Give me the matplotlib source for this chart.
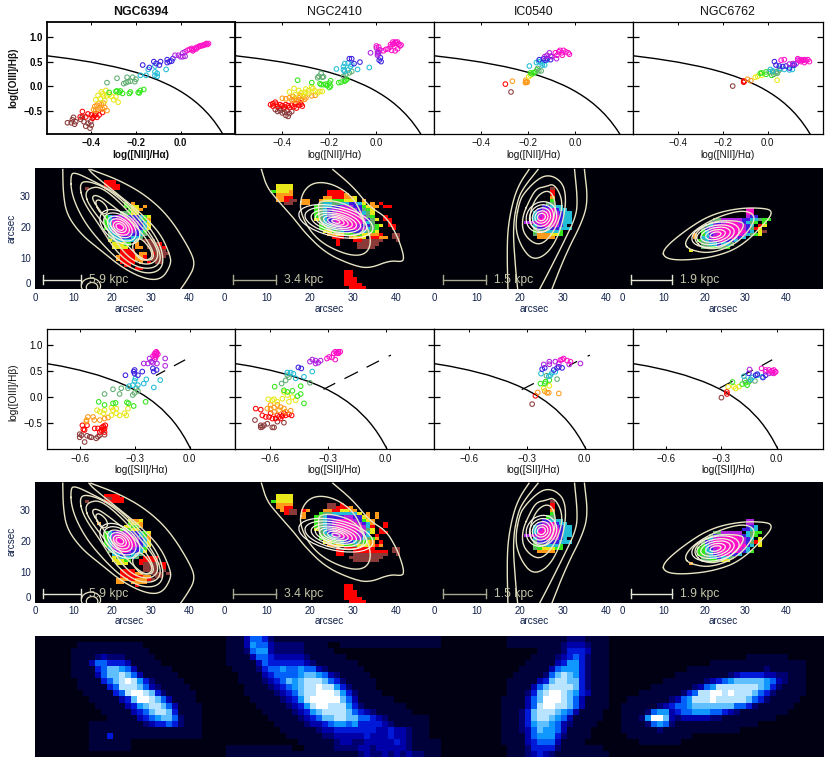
import numpy as np
import matplotlib
matplotlib.use("Agg")
import matplotlib.pyplot as plt
from matplotlib.colors import ListedColormap, BoundaryNorm
from matplotlib.patches import Ellipse

plt.rcParams['font.family'] = ['Liberation Sans', 'DejaVu Sans']
W, H = 832, 763

GALAXIES = ["NGC6394", "NGC2410", "IC0540", "NGC6762"]
KPC_LABELS = ["5.9 kpc", "3.4 kpc", "1.5 kpc", "1.9 kpc"]
CAT_COLORS = ["#8b3a3a", "#ff0000", "#ff9a1a", "#e8e81a", "#33e619",
              "#5fae70", "#22bcd6", "#3a1fe0", "#b021e0", "#ff10c8"]

# demarcation curves
NII_CURVE_X = [-0.6, -0.5, -0.4, -0.3, -0.25, -0.2, -0.15, -0.1, -0.05, -0.025, 0, 0.025, 0.05, 0.075, 0.1, 0.125, 0.15, 0.175, 0.19]
NII_CURVE_Y = [0.62, 0.561, 0.489, 0.398, 0.343, 0.28, 0.206, 0.12, 0.017, -0.042, -0.108, -0.181, -0.262, -0.354, -0.459, -0.578, -0.716, -0.878, -0.989]
SII_CURVE_X = [-0.85, -0.7, -0.6, -0.5, -0.4, -0.35, -0.3, -0.25, -0.2, -0.15, -0.1, -0.075, -0.05, -0.025, 0, 0.01]
SII_CURVE_Y = [0.685, 0.594, 0.517, 0.422, 0.3, 0.225, 0.139, 0.037, -0.085, -0.232, -0.414, -0.523, -0.646, -0.787, -0.95, -1.023]

# Seyfert/LINER dash pieces (x0, y0, x1, y1) visible in each [SII] panel
DASHES = [
    [(-0.18, 0.42, -0.136, 0.503), (-0.082, 0.605, -0.027, 0.709)],
    [(-0.32, 0.155, -0.265, 0.26), (-0.211, 0.36, -0.147, 0.48), (-0.0965, 0.578, -0.038, 0.688), (0.018, 0.79, 0.024, 0.80)],
    [(-0.323, 0.15, -0.266, 0.257), (-0.078, 0.61, -0.042, 0.68), (0.018, 0.79, 0.024, 0.80)],
    [(-0.306, 0.18, -0.242, 0.3), (-0.187, 0.41, -0.133, 0.51), (-0.078, 0.61, -0.027, 0.71)],
]

NII_6394 = {
 0: [(-.507,-.75),(-.48,-.64),(-.475,-.78),(-.485,-.69),(-.448,-.68),(-.433,-.73),(-.425,-.82),(-.406,-.86),(-.415,-.76),(-.403,-.73),(-.44,-.63),(-.47,-.73),(-.49,-.75),(-.40,-.80)],
 1: [(-.44,-.52),(-.45,-.63),(-.425,-.63),(-.415,-.57),(-.40,-.59),(-.39,-.63),(-.38,-.56),(-.365,-.59),(-.35,-.54),(-.395,-.66),(-.375,-.64),(-.385,-.6)],
 2: [(-.39,-.48),(-.385,-.42),(-.375,-.39),(-.37,-.47),(-.36,-.44),(-.355,-.38),(-.35,-.47),(-.345,-.35),(-.34,-.44),(-.33,-.5),(-.38,-.5),(-.365,-.35)],
 3: [(-.38,-.28),(-.37,-.19),(-.36,-.26),(-.355,-.12),(-.345,-.2),(-.34,-.3),(-.335,-.09),(-.33,-.2),(-.31,-.21),(-.30,-.28),(-.29,-.22),(-.28,-.33),(-.35,-.16),(-.32,-.17)],
 4: [(-.32,-.13),(-.285,-.1),(-.275,-.13),(-.26,-.15),(-.23,-.15),(-.225,-.12),(-.185,-.14),(-.165,-.07),(-.18,-.09),(-.29,-.11),(-.27,-.1),(-.19,-.13)],
 5: [(-.33,.07),(-.285,.16),(-.24,.18),(-.215,.18),(-.245,.07),(-.225,.1),(-.205,.09),(-.2,.14),(-.235,.09),(-.255,.05)],
 6: [(-.18,.22),(-.155,.22),(-.145,.34),(-.115,.41),(-.115,.29),(-.105,.2),(-.115,.22),(-.065,.34),(-.105,.26)],
 7: [(-.17,.43),(-.14,.38),(-.12,.5),(-.11,.46),(-.09,.5),(-.095,.43),(-.06,.54),(-.05,.5),(-.035,.56),(-.06,.48),(-.04,.51)],
 8: [(-.025,.63),(-.01,.63),(.01,.68),(.01,.6),(.02,.7),(0,.6),(.02,.61)],
 9: [(.03,.73),(.04,.75),(.05,.74),(.055,.72),(.06,.75),(.07,.76),(.08,.8),(.085,.82),(.09,.82),(.095,.83),(.1,.83),(.105,.84),(.11,.85),(.115,.87),(.12,.85),(.125,.87),(.05,.77),(.07,.79)],
}
NII_2410 = {
 0: [(-.43,-.48),(-.42,-.52),(-.41,-.5),(-.40,-.55),(-.39,-.54),(-.385,-.6),(-.375,-.62),(-.37,-.56),(-.395,-.47),(-.41,-.46),(-.38,-.5),(-.36,-.52)],
 1: [(-.45,-.38),(-.44,-.36),(-.44,-.41),(-.43,-.33),(-.425,-.37),(-.42,-.42),(-.41,-.38),(-.40,-.4),(-.39,-.43),(-.385,-.38),(-.375,-.4),(-.37,-.44),(-.36,-.39),(-.35,-.42),(-.345,-.36),(-.34,-.45),(-.33,-.39),(-.325,-.34),(-.32,-.37),(-.315,-.41)],
 2: [(-.40,-.25),(-.385,-.26),(-.37,-.24),(-.36,-.28),(-.355,-.21),(-.345,-.25),(-.34,-.3),(-.33,-.24),(-.325,-.2),(-.32,-.28),(-.31,-.22),(-.305,-.27),(-.30,-.24),(-.35,-.29),(-.275,-.2),(-.26,-.19)],
 3: [(-.37,-.12),(-.35,-.05),(-.345,-.18),(-.33,-.09),(-.32,-.14),(-.31,-.18),(-.3,-.06),(-.29,-.1),(-.285,-.15),(-.27,-.05),(-.26,-.1),(-.25,-.14),(-.24,-.11),(-.23,-.11),(-.275,-.02),(-.305,-.13)],
 4: [(-.335,.12),(-.275,.07),(-.24,.05),(-.235,.03),(-.225,.03),(-.21,.01),(-.195,.11),(-.2,.06),(-.195,0),(-.2,-.03),(-.16,.07),(-.15,.08),(-.135,.1),(-.125,.14),(-.13,.12),(-.215,.04)],
 5: [(-.245,.2),(-.25,.17),(-.235,.26),(-.23,.18),(-.225,.19),(-.13,.24),(-.115,.27),(-.105,.3),(-.14,.2)],
 6: [(-.17,.35),(-.14,.33),(-.135,.3),(-.12,.33),(-.11,.4),(-.12,.47),(-.135,.46),(-.03,.38),(-.08,.34),(-.14,.4),(-.105,.44)],
 7: [(-.115,.56),(-.105,.56),(-.07,.49),(-.095,.46),(.017,.58),(.02,.5),(.012,.53)],
 8: [(-.025,.68),(0,.78),(.005,.7),(.005,.66),(.01,.7),(.015,.74),(.01,.68),(.005,.63)],
 9: [(0,.82),(.01,.8),(.03,.72),(.05,.76),(.06,.8),(.065,.73),(.07,.85),(.075,.87),(.08,.9),(.085,.88),(.09,.9),(.095,.86),(.1,.82),(.105,.84),(.08,.72),(.09,.76),(.07,.9),(.06,.85),(.04,.75)],
}
NII_0540 = {
 0: [(-.273,-.12)],
 1: [(-.297,.04)],
 2: [(-.267,.1),(-.21,.08),(-.205,.09),(-.212,.07),(-.205,.075),(-.21,.12)],
 3: [(-.198,.19),(-.19,.22)],
 4: [(-.19,.27),(-.177,.27),(-.17,.29),(-.184,.25),(-.163,.33)],
 5: [(-.155,.31),(-.145,.31),(-.16,.36)],
 6: [(-.195,.41),(-.165,.48),(-.148,.5),(-.14,.43),(-.13,.43),(-.155,.5),(-.12,.53),(-.14,.47)],
 7: [(-.153,.54),(-.135,.56),(-.12,.56),(-.105,.54),(-.128,.53)],
 8: [(-.13,.6),(-.12,.63),(-.11,.68),(-.1,.6),(-.08,.56),(-.105,.61)],
 9: [(-.085,.68),(-.07,.7),(-.065,.73),(-.05,.73),(-.055,.63),(-.04,.7),(-.025,.65),(-.078,.63),(-.057,.68),(-.03,.68)],
}
NII_6762 = {
 0: [(-.156,0)],
 1: [(-.107,.1),(-.107,.08),(-.104,.1)],
 2: [(-.09,.14),(-.075,.11)],
 3: [(-.055,.18),(-.045,.2),(-.027,.22),(.042,.12)],
 4: [(-.033,.26),(-.027,.27),(-.007,.24),(-.007,.29),(.018,.22)],
 5: [(.007,.29),(.022,.29),(.037,.29),(.045,.29),(.052,.33),(.042,.26),(.027,.24)],
 6: [(.012,.34),(.022,.31),(.052,.36),(.074,.34),(.11,.34),(.097,.33)],
 7: [(.03,.5),(.037,.43),(.052,.41),(.067,.4),(.082,.41),(.097,.37),(.112,.43),(.119,.43)],
 8: [(.097,.45),(.112,.46),(.127,.46),(.134,.53)],
 9: [(.06,.53),(.074,.54),(.134,.56),(.141,.52),(.149,.5),(.156,.53),(.164,.54),(.171,.52),(.179,.54),(.186,.5),(.164,.48),(.149,.54)],
}
SII_6394 = {
 0: [(-.6,-.71),(-.6,-.77),(-.59,-.73),(-.56,-.74),(-.536,-.77),(-.573,-.86),(-.51,-.79),(-.5,-.76),(-.49,-.73),(-.464,-.72),(-.545,-.76)],
 1: [(-.585,-.54),(-.56,-.54),(-.573,-.63),(-.58,-.62),(-.518,-.6),(-.5,-.6),(-.482,-.63),(-.47,-.56),(-.464,-.6),(-.46,-.54),(-.478,-.58),(-.47,-.62),(-.49,-.67),(-.464,-.67)],
 2: [(-.563,-.44),(-.555,-.38),(-.52,-.44),(-.49,-.44),(-.464,-.41),(-.445,-.39),(-.527,-.38),(-.563,-.47)],
 3: [(-.505,-.25),(-.49,-.28),(-.47,-.31),(-.427,-.2),(-.418,-.25),(-.4,-.31),(-.382,-.35),(-.355,-.31),(-.345,-.35),(-.427,-.35),(-.4,-.22),(-.464,-.25),(-.336,-.22)],
 4: [(-.496,-.09),(-.464,-.15),(-.418,-.12),(-.404,-.11),(-.342,-.1),(-.333,-.12),(-.305,-.17),(-.24,-.09)],
 5: [(-.464,.06),(-.418,.15),(-.382,.06),(-.373,.17),(-.336,.17),(-.29,.17),(-.31,.04),(-.3,.08),(-.282,.12)],
 6: [(-.33,.21),(-.31,.23),(-.282,.23),(-.25,.26),(-.236,.34),(-.195,.185),(-.16,.325),(-.295,.36),(-.3,.31)],
 7: [(-.35,.42),(-.305,.49),(-.3,.45),(-.282,.42),(-.258,.49),(-.3,.52),(-.2,.55),(-.18,.52),(-.196,.49)],
 8: [(-.25,.645),(-.227,.645),(-.218,.74),(-.2,.66),(-.178,.645),(-.133,.74),(-.133,.6),(-.209,.68),(-.19,.72)],
 9: [(-.2,.785),(-.191,.835),(-.182,.87),(-.191,.8),(-.182,.835),(-.182,.8),(-.178,.85),(-.185,.76),(-.173,.82)],
}
SII_2410 = {
 0: [(-.678,-.44),(-.648,-.54),(-.648,-.58),(-.631,-.54),(-.614,-.51),(-.588,-.58),(-.579,-.58),(-.528,-.49),(-.562,-.47),(-.64,-.57)],
 1: [(-.674,-.22),(-.648,-.24),(-.64,-.35),(-.622,-.38),(-.605,-.38),(-.588,-.41),(-.571,-.41),(-.553,-.38),(-.536,-.36),(-.519,-.35),(-.502,-.33),(-.488,-.35),(-.545,-.41),(-.562,-.35),(-.597,-.31),(-.528,-.31)],
 2: [(-.614,-.22),(-.597,-.22),(-.579,-.2),(-.562,-.15),(-.545,-.19),(-.528,-.22),(-.519,-.28),(-.579,-.28),(-.493,-.26),(-.553,-.25),(-.597,-.15)],
 3: [(-.609,-.04),(-.588,-.06),(-.562,-.09),(-.536,-.03),(-.484,0),(-.467,-.06),(-.51,.04),(-.528,.1),(-.579,-.04),(-.502,-.09)],
 4: [(-.576,.2),(-.528,.13),(-.51,.1),(-.484,.12),(-.441,.21),(-.458,.02),(-.424,-.12),(-.441,.06)],
 5: [(-.54,.26),(-.519,.32),(-.51,.42),(-.502,.38),(-.393,.275)],
 6: [(-.51,.47),(-.493,.47),(-.479,.45),(-.467,.36),(-.424,.39),(-.381,.49)],
 7: [(-.453,.57),(-.438,.55)],
 8: [(-.393,.68),(-.381,.72),(-.364,.7),(-.35,.66),(-.338,.7),(-.364,.645)],
 9: [(-.305,.74),(-.293,.77),(-.279,.76),(-.262,.72),(-.27,.84),(-.262,.87),(-.253,.85),(-.245,.87),(-.236,.87),(-.253,.84),(-.245,.84)],
}
SII_0540 = {
 0: [(-.272,-.134)],
 1: [(-.255,.026)],
 2: [(-.243,.09),(-.207,.115),(-.195,.083),(-.186,.083),(-.134,.07)],
 3: [(-.212,.166),(-.183,.217)],
 4: [(-.229,.26),(-.207,.26),(-.203,.295),(-.183,.326)],
 5: [(-.198,.41),(-.143,.345)],
 6: [(-.226,.45),(-.178,.42),(-.169,.465),(-.152,.485),(-.186,.4)],
 7: [(-.22,.537),(-.207,.56),(-.16,.52),(-.143,.56),(-.117,.56),(-.134,.58)],
 8: [(-.212,.626),(-.183,.68),(-.183,.63),(-.152,.68),(-.134,.645),(-.08,.626),(-.022,.645)],
 9: [(-.126,.71),(-.109,.74),(-.091,.7),(-.074,.68),(-.117,.72)],
}
SII_6762 = {
 0: [(-.3,-.01)],
 1: [(-.27,.1),(-.27,.06)],
 3: [(-.263,.2),(-.232,.2),(-.223,.166),(-.205,.2)],
 4: [(-.24,.29),(-.187,.25),(-.169,.275),(-.16,.23),(-.151,.295)],
 5: [(-.173,.325),(-.118,.31),(-.142,.325)],
 6: [(-.178,.4),(-.142,.34),(-.133,.375),(-.105,.42),(-.078,.39)],
 7: [(-.151,.455),(-.114,.42),(-.105,.44),(-.074,.375),(-.06,.42)],
 8: [(-.147,.53),(-.06,.485),(-.042,.455),(-.024,.465)],
 9: [(-.082,.55),(-.06,.52),(-.042,.52),(-.033,.485),(-.024,.505),(-.015,.52),(-.005,.485),(-.015,.455),(-.009,.485)],
}
NII_POINTS = [NII_6394, NII_2410, NII_0540, NII_6762]
SII_POINTS = [SII_6394, SII_2410, SII_0540, SII_6762]

# category maps: (y, x start, one digit per 1-arcsec cell; '.' = empty)
MAP_NII_6394 = [(34,18,"111"),(33,18,"1111"),(32,13,"0....0011"),(27,23,"4.2"),(26,23,"4433.2"),(25,24,"4332"),(24,22,"55433"),
 (23,18,"467888777643"),(22,18,"468999987642"),(21,18,"469999998763"),(20,18,"469999998763"),(19,18,"468999998763"),
 (18,19,"6899998764"),(17,19,"5689987765"),(16,19,"566777665"),(15,19,"35666665.000"),(14,20,"33344.2..0001"),(13,20,"3333..22.00001"),
 (12,22,"1111....0000"),(11,22,"1111.22.10000"),(10,21,"21111221.0000"),(9,21,"21111221.000"),(8,22,"1111.2.1.00"),(7,23,"11"),(6,26,"11")]
MAP_NII_2410 = [(33,12,"3333"),(32,12,"3333"),(31,11,"43332"),(30,12,"2222"),(29,12,"2211"),(28,12,"22100.22"),(27,14,"00..22"),
 (31,24,"1111"),(30,24,"11112"),(29,23,"22111223"),(28,22,"233444333.2"),(27,22,"56655667763.2.1"),(26,21,"456677888774322.11"),
 (25,21,"45678899987543"),(24,21,"45678999998653"),(23,21,"45678999999854..1"),(22,21,"356789999998753.11"),(21,22,"5678999999865...1"),
 (20,22,"456889999877543.11"),(19,22,"44567889988654...1"),(18,23,"3345677776543"),(17,24,"2233445433221"),(16,25,"111.2323.1122"),
 (15,26,"1...1100000"),(14,26,"1....00000"),(13,31,"0000"),(17,39,"00"),(16,39,"00"),(15,40,"0"),
 (5,28,"11"),(4,28,"11"),(3,28,"111"),(2,28,"111"),(1,28,"1111"),(0,29,"1111")]
MAP_NII_0540 = [(32,27,"0"),(31,27,"1"),(30,27,"1"),(29,27,"2"),(28,27,"4"),(27,26,"55"),(26,25,"77666"),(25,24,"7889766"),(24,23,"689998766"),
 (23,23,"689999766"),(22,23,"699999766"),(21,21,"88899999766"),(20,23,"68999876"),(19,23,"577777666"),(18,23,"4556664"),(17,23,"5222334"),(16,24,"2222")]
MAP_NII_6762 = [(25,30,"99"),(24,30,"99"),(23,30,"877"),(22,22,"55888887766544"),(21,21,"577899987654.4"),(20,20,"568999999876.13"),(19,19,"578999999987513"),
 (18,19,"4689999999976.30"),(17,17,"2.467899999986543"),(16,17,"2.66899999876"),(15,18,"4567899776"),(14,19,"55667665"),(13,19,"5544554"),(12,16,"3")]

MAP_SII_6394 = [(34,18,"1111"),(33,18,"00111"),(32,13,"0....11111"),(26,24,"3223"),(25,16,"2.......4332"),(24,23,"33442"),(23,22,"45433"),
 (22,18,"467888777643"),(21,18,"468999987642"),(20,18,"469999998762"),(19,18,"469999998763"),(18,18,"468999998763"),(17,19,"6899998764"),
 (16,19,"5689987763"),(15,20,"66777665.."),(14,20,"3566665.1111"),(13,20,"33344..11111"),(12,21,"333...1000001"),(11,28,"0000.1"),
 (10,22,"1111..0000.0"),(9,22,"111122..000.0"),(8,22,"11111122.00"),(7,21,"2221122210"),(6,21,"22..2222"),(5,26,"1.")]
MAP_SII_2410 = [(34,12,"3333"),(33,12,"3333"),(32,11,"43333"),(31,12,"2222"),(30,12,"2211"),(29,13,"2100.12"),(28,14,"100.2"),(27,18,"2"),
 (31,24,"00.1"),(30,24,"001112"),(29,23,"22113322"),(28,22,"4556666663.2.2"),(27,21,"4567777887732.2"),
 (26,21,"45678999987432"),(25,21,"45678999998762..1"),(24,21,"45678999999861..1"),(23,21,"35678999999853.1"),(22,22,"5678999998863.11"),
 (21,22,"456889999876.1"),(20,22,"44567889986542"),(19,23,"334567765432.1"),(18,24,"2233445333212"),(17,26,"1.1111111"),
 (16,26,"11..11111111"),(15,26,"11..00000000"),(14,27,"..00000000"),(13,30,"000000"),(17,39,"00"),(16,39,"00"),(15,40,"0"),
 (5,28,"11"),(4,28,"11"),(3,28,"111"),(2,28,"111"),(1,28,"1111"),(0,29,"1111")]
MAP_SII_0540 = [(32,27,"0"),(31,27,"1"),(30,27,"1"),(29,27,"2"),(28,27,"4"),(27,26,"45"),(26,25,"77666"),(25,24,"7889766"),(24,23,"689998766"),
 (23,23,"689999766"),(22,23,"699999766"),(21,21,"88899999766"),(20,23,"68999876"),(19,23,"577777666"),(18,23,"4556664"),(17,23,"5433344"),(16,24,"2222")]
MAP_SII_6762 = [(26,30,"88"),(25,30,"88"),(24,30,"776"),(23,29,"7766"),(22,22,"5588888.6544"),(21,21,"577899987654"),(20,20,"568999999876.3"),(19,19,"578999999987513"),
 (18,19,"4689999999976.3"),(17,18,"4467899999986"),(16,18,"44668999998764"),(15,18,"44567899776"),(14,19,"55667665"),(13,19,"5544533"),(12,16,"2")]
MAPS_NII = [MAP_NII_6394, MAP_NII_2410, MAP_NII_0540, MAP_NII_6762]
MAPS_SII = [MAP_SII_6394, MAP_SII_2410, MAP_SII_0540, MAP_SII_6762]

CONT_6394 = [
 (False,[(14.5,38.5),(22,35),(29,30),(35,23),(40.5,12),(41.5,7.5),(39.5,3),(37.5,-0.5)]),
 (False,[(7.2,38.5),(7.3,31),(8.2,24),(12,17.5),(17,12.5),(23,6.5),(29,3),(33,3.2),(35.3,8),(35,11),(32.5,18),(27,25),(21,31),(15,37),(14,38.5)]),
 (True,[(9.2,37),(9.5,30),(13,21),(18.5,13),(23,8),(28,5),(32,5.5),(33.5,9),(32,16),(27,24),(21,31),(14,35.5),(10.5,37.5)]),
 (True,[(11.5,33.5),(12.5,28),(17,20),(21,12),(26,7),(31,6.5),(33,10),(30.5,17),(24,27),(18,33),(13,35)]),
 (True,[(13,30.5),(14,27),(19,19),(24,10),(29,7.5),(32,9.5),(31.5,14),(27,21),(22,28),(17,33),(14,32.5)]),
 (True,[(14.5,29.5),(17,25),(21,18),(27,10),(30,9),(31,11),(29,16),(25,22),(20,27),(16,30.5)]),
 (True,[(15.5,28),(17,24),(19,24.5),(18.5,27),(16.5,29)]),
 (True,[(28,9),(30.5,10),(30,13),(27,17),(25,14),(26,11)]),
]
CONT_2410 = [
 (False,[(8.7,38.5),(9.9,33),(12.2,29),(16,23.2),(19,17.8),(23.8,11.4),(30,7.6),(33.8,6.6),(38.5,9.2),(41.5,8.7),(41.8,10.3),(41.2,13.5),(40,17.8),(37.7,23.2),(33.8,26.5),(30,33),(25.3,38.5)]),
 (True,[(18,30.8),(17.6,24.3),(21.5,15.7),(28.4,10.9),(33,10.9),(34.4,15.7),(32.3,23.2),(30,29.7),(25.3,34),(20.7,34.5)]),
 (True,[(21.9,26.5),(22.2,21),(27.6,16.8),(32.3,17.8),(32.7,22),(30,26.5),(25.3,28.6),(22.2,28.3)]),
]
CONT_0540 = [
 (False,[(17.2,-0.5),(17,11.4),(17.2,20),(18.4,28.6),(19.9,34),(22.1,38.5)]),
 (False,[(19.5,-0.5),(19,6),(18.3,20),(19.5,29),(21,33),(24.2,38.5)]),
 (False,[(32.7,38.5),(33.4,28.6),(33,23.2),(30,14.6),(26.5,5),(24.4,-0.5)]),
 (False,[(35,38.5),(35.8,28.6),(34.6,22),(30.7,11.4),(27.3,-0.5)]),
 (True,[(19.9,28.6),(18.8,20),(20.3,13.5),(23,9.2),(26.5,11.4),(29.2,17.8),(30.7,26.5),(30.4,33),(28.4,36),(26,36.7),(23.8,35),(21.5,31.8)]),
 (True,[(22.2,28.6),(20.5,23.2),(20.7,17.8),(23.8,14),(26.5,15.7),(29.2,22),(30,28.6),(28,34),(26,33),(23.8,32.4)]),
 (True,[(22.2,24.3),(22.6,20),(25.3,17.8),(27.6,21),(28.4,26.5),(27.6,30.8),(26,31.8),(23.8,29.7)]),
]
CONT_6762 = [
 (True,[(9.6,12.5),(10.4,9.8),(14.9,9.2),(22.3,10.3),(28.9,13.5),(35.4,22),(36.6,24.7),(35.4,26),(28.9,26.2),(21.5,24),(15,18.6)]),
 (True,[(14.9,14.6),(16.6,12.5),(21.5,11.4),(28,14.6),(32.1,21),(32.1,24.3),(28.9,25.4),(23.1,23.2),(17.4,18.9)]),
 (True,[(17.4,15.7),(19.8,13),(23.9,13),(28,16.8),(30,21),(28,22),(22.3,22),(18.2,18.9)]),
]
CONTOURS = [CONT_6394, CONT_2410, CONT_0540, CONT_6762]
# inner contours: (cx, cy, width, height, angle)
INNER = [
 [(22,20,13,8,-50),(22,20,10.5,6.5,-50),(22,20,8,5,-50),(22,20,6,4,-50),(22,20,4,2.8,-50),(22,20,2.4,1.7,-50)],
 [(26,21.8,18,9.5,-20),(26,21.8,15,8,-20),(26,21.8,12,6.5,-20),(26,21.8,10,5,-20),(26,21.8,8,4,-20),(26,21.8,6,3,-20),(26,21.8,4,2.2,-20),(26,21.8,2,1.1,-20)],
 [(25,23.2,10,7,80),(25,23.2,8,5.5,80),(25,23.2,6,4.2,80),(25,23.2,4,3,80),(25,23.2,2.4,1.8,80)],
 [(22.7,17.5,12,7.5,20),(22.7,17.5,9.5,5.8,20),(22.7,17.5,7.5,4.4,20),(22.7,17.5,5,3,20),(22.7,17.5,2.8,1.6,20)],
]
EXTRA_RINGS = (14.5, 1.0, 5, 5), (14.8, 0.5, 3, 3.2)

# bottom strip: (row, column start, brightness digits) on a 6-px grid
STRIP_ROWS = 20
STRIP_COLS = 132
STRIP = [
 # NGC6394
 (3,10,"23222"),(4,9,"3554443"),(5,10,"457765 3".replace(" ","")),(6,10,"35778753"),(7,11,"457898642"),(8,12,"45888753 2".replace(" ","")),
 (9,13,"458998742"),(10,14,"3479987 53".replace(" ","")),(11,15,"346788753"),(12,16,"34578874"),(13,17,"34567752"),(14,18,"2344542"),(16,12,"4"),
 # NGC2410
 (0,35,"35542"),(1,34,"1365532222 21".replace(" ","")),(2,35,"2566322 2221".replace(" ","")),(3,36,"35543333321"),(4,37,"354444444321".replace("444444","44444")),
 (5,37,"2455655655 32".replace(" ","")),(6,38,"34555567765 32".replace(" ","")),(7,38,"2345767888754 2".replace(" ","")),(8,39,"234567889 88642".replace(" ","")),
 (9,40,"2345788999864 2".replace(" ","")),(10,41,"23468999997531"),(11,42,"2346899888 6421".replace(" ","")),(12,43,"234678888754 32".replace(" ","")),
 (13,44,"234577887755432"),(14,45,"2334566564444 32".replace(" ","")),(15,47,"233444444433433 2".replace(" ","")),(16,48,"2233333433343 32".replace(" ","")),
 (17,50,"23322333334321"),(18,50,"2222332333332"),(19,52,"1023223232322".replace("0","1")),
 # IC0540
 (0,88,"12221"),(1,88,"23332"),(2,88,"24443"),(3,87,"234542"),(4,87,"3466 42".replace(" ","")),(5,86,"3566642"),(6,85,"25787642"),(7,84,"347887742"),
 (8,83,"3578888742"),(9,82,"24789987 6 43".replace(" ","")),(10,82,"3579998753"),(11,82,"3589988753"),(12,81,"2478887653"),(13,81,"247887653"),
 (14,81,"24677653 2".replace(" ","")),(15,81,"23576653"),(16,82,"356664 2".replace(" ","")),(17,82,"345553"),(18,82,"244442"),(19,82,"23432"),
 # NGC6762
 (5,121,"121"),(6,116,"23444433221"),(7,112,"23456777776532"),(8,110,"23568888888764 2".replace(" ","")),(9,108,"2458899 898887542".replace(" ","")),
 (10,106,"2356888988888754 2".replace(" ","")),(11,104,"234556777777755 42".replace(" ","")),(12,102,"25663455 66655 4321".replace(" ","")),
 (13,101,"269973233333 22".replace(" ","")),(14,102,"2565 21".replace(" ","")),(15,103,"121"),
]
STRIP_COLORS = ["#000012","#00003a","#000070","#0000a8","#0018d8","#0060f8","#1098ff","#60c0ff","#b8e4ff","#ffffff"]

NII_TICKS = [-0.4, -0.2, 0.0]
SII_TICKS = [-0.6, -0.3, 0.0]
Y_TICKS = [-0.5, 0.0, 0.5, 1.0]
ARC_X_TICKS = [0, 10, 20, 30, 40]
ARC_Y_TICKS = [0, 10, 20, 30]

def axpx(x0, y0, x1, y1, **kw):
    return fig.add_axes([x0/W, 1-y1/H, (x1-x0)/W, (y1-y0)/H], **kw)

def smooth(pts, closed):
    p = np.array(pts, float)
    if closed:
        p = np.vstack([p, p[:1]])
    for _ in range(3):
        q = [p[0]] if not closed else []
        for a, b in zip(p[:-1], p[1:]):
            q += [0.75*a+0.25*b, 0.25*a+0.75*b]
        if closed:
            q.append(q[0])
        else:
            q.append(p[-1])
        p = np.array(q)
    return p

fig = plt.figure(figsize=(W/100, H/100), dpi=100, facecolor="white")

SC_X = [(46.7, 235.3), (235.3, 434), (434, 633), (633, 822.7)]
MAP_X = [(35, 224, 49), (224, 434, 48.8), (434, 622.7, 43.9), (622.7, 823, 49)]
MINUS = "\u2212"

def scatter_row(top, bot, ylim, xlim, xticks, curve_x, curve_y, points, xlabel, lab_y_ticks, lab_y, dashes=None, first_bold=True):
    for i, (x0, x1) in enumerate(SC_X):
        ax = axpx(x0, top, x1, bot)
        ax.set_xlim(*xlim); ax.set_ylim(*ylim)
        ax.plot(curve_x, curve_y, color="black", lw=1.0, zorder=2)
        if dashes:
            for d in dashes[i]:
                ax.plot([d[0], d[2]], [d[1], d[3]], color="black", lw=0.9, zorder=2)
        for c, pts in points[i].items():
            xs = [p[0] for p in pts]; ys = [p[1] for p in pts]
            ax.scatter(xs, ys, s=11, facecolors="none", edgecolors=CAT_COLORS[c], linewidths=0.75, zorder=3)
        bold = first_bold and i == 0
        ax.set_yticks(Y_TICKS); ax.set_xticks(xticks)
        ax.tick_params(axis="y", direction="in", left=True, right=True, length=4, width=0.9, pad=3)
        ax.tick_params(axis="x", direction="in", top=True, bottom=True, length=2.5, width=0.7)
        ax.set_xticklabels([])
        if i == 0:
            ax.set_yticklabels([f"{v:.1f}".replace("-", MINUS) for v in Y_TICKS], fontsize=6.9, fontweight="bold" if bold else "normal")
        else:
            ax.set_yticklabels([])
        scale = (x1-x0)/(xlim[1]-xlim[0])
        for v in xticks:
            px = x0 + (v-xlim[0])*scale
            fig.text(px/W, 1-lab_y_ticks/H, f"{v:.1f}".replace("-", MINUS), ha="center", va="center", fontsize=6.9,
                     fontweight="bold" if bold else "normal", color="#111111")
        fig.text((x0+x1)/2/W, 1-lab_y/H, xlabel, ha="center", va="center", fontsize=7.2,
                 fontweight="bold" if bold else "normal", color="#111111")
        for s in ax.spines.values():
            s.set_linewidth(1.3 if bold else 0.9)

def map_row(top, bot, maps, lab_y_ticks, lab_y):
    cmap = ListedColormap(CAT_COLORS)
    for i, (x0, x1, xmax) in enumerate(MAP_X):
        ax = axpx(x0, top, x1, bot)
        ax.set_facecolor("#000008")
        ax.set_xlim(0, xmax); ax.set_ylim(0, 39)
        grid = np.full((39, 50), np.nan)
        for y, xs, s in maps[i]:
            for k, ch in enumerate(s):
                if ch != "." and xs+k < 50:
                    grid[y, xs+k] = int(ch)
        ax.imshow(np.ma.masked_invalid(grid), origin="lower", extent=(0, 50, 0, 39), aspect="auto", cmap=cmap,
                  norm=BoundaryNorm(np.arange(-0.5, 10.5), 10), interpolation="nearest", zorder=1)
        ax.set_xlim(0, xmax); ax.set_ylim(0, 39)
        for closed, pts in CONTOURS[i]:
            p = smooth(pts, closed)
            ax.plot(p[:, 0], p[:, 1], color="#e8e4c4", lw=1.0, zorder=3)
        for cx, cy, w, h, ang in INNER[i]:
            ax.add_patch(Ellipse((cx, cy), w, h, angle=ang, fill=False, ec="#f6f2e4", lw=0.9, zorder=4))
        if i == 0:
            for cx, cy, w, h in EXTRA_RINGS:
                ax.add_patch(Ellipse((cx, cy), w, h, fill=False, ec="#e8e4c4", lw=0.9, zorder=3))
        bar_col = "#e6e6d8" if i in (0, 3) else "#a8a890"
        ax.plot([2, 12], [3, 3], color=bar_col, lw=1.0, zorder=5)
        for xb in (2, 12):
            ax.plot([xb, xb], [1.6, 4.4], color=bar_col, lw=1.0, zorder=5)
        ax.text(14, 3, KPC_LABELS[i], color="#c4c4a8", fontsize=8.7, va="center", ha="left", zorder=6)
        ax.set_xticks(ARC_X_TICKS)
        ax.set_xticklabels([])
        ax.tick_params(length=0)
        if i == 0:
            ax.set_yticks(ARC_Y_TICKS)
            lbls = ax.set_yticklabels([str(v) for v in ARC_Y_TICKS], fontsize=6.9, color="#10204a")
            lbls[0].set_va("bottom")
            ax.tick_params(axis="y", pad=3)
        else:
            ax.set_yticks([])
        scale = (x1-x0)/xmax
        for v in ARC_X_TICKS:
            fig.text((x0+v*scale)/W, 1-lab_y_ticks/H, str(v), ha="center", va="center", fontsize=6.9, color="#10204a")
        fig.text((x0+24.5*(x1-x0)/49)/W if i != 2 else (x0+100)/W, 1-lab_y/H, "arcsec", ha="center", va="center", fontsize=7.2, color="#10204a")
        for s in ax.spines.values():
            s.set_visible(False)

scatter_row(22, 134, (-0.98, 1.31), (-0.6, 0.245), NII_TICKS, NII_CURVE_X, NII_CURVE_Y, NII_POINTS, "log([NII]/H\u03b1)", 143.5, 155)
map_row(168, 289, MAPS_NII, 298, 308.5)
scatter_row(329.3, 449.3, (-1.0, 1.30), (-0.78, 0.25), SII_TICKS, SII_CURVE_X, SII_CURVE_Y, SII_POINTS, "log([SII]/H\u03b1)", 459, 470, dashes=DASHES, first_bold=False)
map_row(481.7, 603, MAPS_SII, 611, 621.5)

for name, i in zip(GALAXIES, range(4)):
    x0, x1 = SC_X[i]
    fig.text((x0+x1)/2/W, 1-12/H, name, ha="center", va="center", fontsize=8.9, fontweight="bold" if i == 0 else "normal", color="#111111")

fig.text(13/W, 1-78/H, "log([OIII]/H\u03b2)", rotation=90, ha="center", va="center", fontsize=7.2, fontweight="bold", color="#111111")
fig.text(13/W, 1-392/H, "log([OIII]/H\u03b2)", rotation=90, ha="center", va="center", fontsize=7.2, color="#111111")
fig.text(12/W, 1-228/H, "arcsec", rotation=90, ha="center", va="center", fontsize=7.2, color="#10204a")
fig.text(12/W, 1-541/H, "arcsec", rotation=90, ha="center", va="center", fontsize=7.2, color="#10204a")

# bottom image strip
strip = np.zeros((STRIP_ROWS, STRIP_COLS), dtype=int)
for r, c, s in STRIP:
    for k, ch in enumerate(s):
        if c+k < STRIP_COLS:
            strip[r, c+k] = int(ch)
glow = np.zeros_like(strip, dtype=bool)
for dr in range(-2, 3):
    for dc in range(-3, 4):
        glow |= np.roll(np.roll(strip >= 2, dr, axis=0), dc, axis=1)
strip[(strip == 0) & glow] = 1
ax = axpx(35, 636, 824, 757)
ax.imshow(strip, cmap=ListedColormap(STRIP_COLORS), norm=BoundaryNorm(np.arange(-0.5, 10.5), 10),
          aspect="auto", interpolation="nearest", extent=(0, 131.5, 20, 0))
ax.axis("off")

fig.savefig("out.png", dpi=100)
